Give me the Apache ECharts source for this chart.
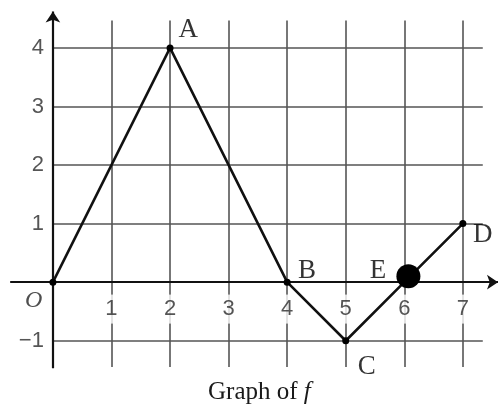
<!DOCTYPE html>
<html>
<head>
<meta charset="utf-8">
<script src="https://cdn.jsdelivr.net/npm/echarts@6/dist/echarts.min.js"></script>
<style>
  html, body { margin: 0; padding: 0; background: #fff; }
  #main { width: 499px; height: 409px; }
</style>
</head>
<body>
<div id="main"></div>
<script>
// graph of f : vertices
var fX = [0, 2, 4, 5, 6, 7];
var fY = [0, 4, 0, -1, 0, 1];
// tick values
var xTicks = [1, 2, 3, 4, 5, 6, 7];
var yTicks = [-1, 1, 2, 3, 4];
var xTickLabels = ['1', '2', '3', '4', '5', '6', '7'];
var yTickLabels = ['\u22121', '1', '2', '3', '4'];
// point names and where their letters sit
var ptNames = ['A', 'B', 'C', 'D', 'E'];
var ptLabelX = [2.31, 4.34, 5.36, 7.34, 5.55];
var ptLabelY = [4.3, 0.2, -1.45, 0.8, 0.19];
// the big dot near E
var eDot = [6.07, 0.1];

var myChart = echarts.init(document.getElementById('main'));

var gridLines = [];
xTicks.forEach(function (x) {
    gridLines.push({ coords: [[x, -1.45], [x, 4.47]] });
});
yTicks.forEach(function (y) {
    gridLines.push({ coords: [[0, y], [7.34, y]] });
});

var curve = fX.map(function (x, i) { return [x, fY[i]]; });

var xLab = xTicks.map(function (x, i) { return { value: [x, -0.46], name: xTickLabels[i] }; });
var yLab = yTicks.map(function (y, i) { return { value: [-0.12, y], name: yTickLabels[i] }; });
var ptLab = ptNames.map(function (n, i) { return { value: [ptLabelX[i], ptLabelY[i]], name: n }; });

var tickFont = { fontFamily: 'Liberation Sans', fontSize: 22, color: '#2a2a2a' };

myChart.setOption({
    animation: false,
    title: {
        text: 'Graph of {i|f}',
        left: 203,
        top: 375,
        textStyle: {
            fontFamily: 'Liberation Serif', fontSize: 25, fontWeight: 'normal', color: '#1a1a1a',
            rich: { i: { fontFamily: 'Liberation Serif', fontStyle: 'italic', fontSize: 25, color: '#1a1a1a' } }
        }
    },
    grid: { left: 9, right: 1, top: 4, bottom: 39 },
    xAxis: { type: 'value', min: -0.75, max: 7.6, show: false },
    yAxis: { type: 'value', min: -1.5, max: 4.75, show: false },
    series: [
        {
            // gridlines
            type: 'lines',
            coordinateSystem: 'cartesian2d',
            silent: true,
            lineStyle: { color: '#555', width: 1.6, opacity: 1 },
            data: gridLines,
            z: 1
        },
        {
            // axes with arrows
            type: 'lines',
            coordinateSystem: 'cartesian2d',
            symbol: ['none', 'arrow'],
            symbolSize: 11,
            lineStyle: { color: '#111', width: 2.2, opacity: 1 },
            data: [
                { coords: [[-0.73, 0], [7.6, 0]] },
                { coords: [[0, -1.47], [0, 4.62]] }
            ],
            z: 2
        },
        {
            type: 'line',
            data: curve,
            symbol: 'circle',
            symbolSize: 7,
            itemStyle: { color: '#000' },
            lineStyle: { color: '#111', width: 2.6 },
            z: 5
        },
        {
            type: 'scatter',
            data: [eDot],
            symbolSize: 24,
            itemStyle: { color: '#000', opacity: 1 },
            z: 6
        },
        {
            type: 'scatter',
            data: xLab,
            symbolSize: 0,
            label: {
                show: true, position: 'inside', formatter: '{b}',
                backgroundColor: '#fff', padding: [4, 2, 3, 2],
                fontFamily: tickFont.fontFamily, fontSize: tickFont.fontSize, color: tickFont.color
            },
            z: 4
        },
        {
            type: 'scatter',
            data: yLab,
            symbolSize: 0,
            label: {
                show: true, position: 'left', distance: 2, formatter: '{b}',
                fontFamily: tickFont.fontFamily, fontSize: tickFont.fontSize, color: tickFont.color
            },
            z: 4
        },
        {
            type: 'scatter',
            data: [{ value: [-0.33, -0.31], name: 'O' }],
            symbolSize: 0,
            label: {
                show: true, position: 'inside', formatter: '{b}',
                fontFamily: 'Liberation Serif', fontStyle: 'italic', fontSize: 24, color: '#222'
            },
            z: 4
        },
        {
            type: 'scatter',
            data: ptLab,
            symbolSize: 0,
            label: {
                show: true, position: 'inside', formatter: '{b}',
                fontFamily: 'Liberation Serif', fontSize: 27, color: '#000'
            },
            z: 7
        }
    ]
});
</script>
</body>
</html>
